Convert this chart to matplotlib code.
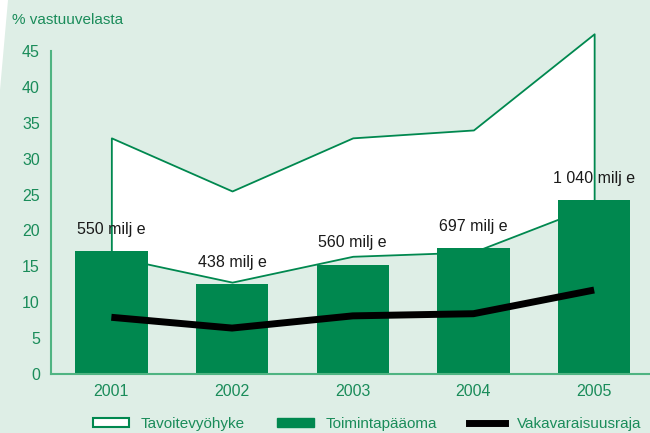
import matplotlib
matplotlib.use('Agg')
import matplotlib.pyplot as plt
from matplotlib.patches import Patch, Polygon
from matplotlib.lines import Line2D

plt.rcParams['font.family'] = ['Liberation Sans', 'DejaVu Sans']

years = ['2001', '2002', '2003', '2004', '2005']
toimintapaaoma = [17.1, 12.5, 15.2, 17.5, 24.2]
zone_upper = [32.9, 25.5, 32.9, 34.0, 47.4]
zone_lower = [16.4, 12.8, 16.4, 17.0, 23.5]
vakavaraisuusraja = [7.9, 6.4, 8.1, 8.4, 11.7]
bar_labels = ['550 milj e', '438 milj e', '560 milj e', '697 milj e', '1 040 milj e']

bg = '#deeee6'
green = '#00884f'
text_green = '#1a8c5a'
spine_green = '#4fb482'

fig = plt.figure(figsize=(6.5, 4.33), dpi=100, facecolor=bg)
ax = fig.add_axes([51 / 650, 59 / 433, 603.5 / 650, 323 / 433])
ax.set_facecolor(bg)

# white notch at the top-left corner of the page
fig.patches.append(Polygon([(0, 1), (8 / 650, 1), (0, 1 - 90 / 433)],
                           closed=True, transform=fig.transFigure,
                           facecolor='white', edgecolor='none'))

x = list(range(len(years)))
ax.fill_between(x, zone_lower, zone_upper, facecolor='white',
                edgecolor=green, linewidth=1.3, zorder=1, clip_on=False)
ax.bar(x, toimintapaaoma, width=0.6, color=green, zorder=2)
ax.plot(x, vakavaraisuusraja, color='black', linewidth=5, zorder=3,
        solid_capstyle='butt')

for i, (v, lab) in enumerate(zip(toimintapaaoma, bar_labels)):
    ax.annotate(lab, (i, v), xytext=(0, 16), textcoords='offset points',
                ha='center', va='center', fontsize=11.5, color='#1a1a1a', zorder=4)

ax.set_xlim(-0.5, 4.5)
ax.set_ylim(0, 45)
ax.set_yticks(range(0, 50, 5))
ax.set_xticks(x)
ax.set_xticklabels(years)
ax.tick_params(axis='both', length=0, labelsize=11.5, colors=text_green)
ax.tick_params(axis='y', pad=8)
ax.tick_params(axis='x', pad=7)
for s in ['top', 'right']:
    ax.spines[s].set_visible(False)
for s in ['left', 'bottom']:
    ax.spines[s].set_color(spine_green)
    ax.spines[s].set_linewidth(1.5)

fig.text(12 / 650, 1 - 20 / 433, '% vastuuvelasta', color=text_green,
         fontsize=11, ha='left', va='center')

handles = [Patch(facecolor='white', edgecolor=green, linewidth=1.5),
           Patch(facecolor=green, edgecolor=green),
           Line2D([0], [0], color='black', linewidth=5)]
labels = ['Tavoitevyöhyke', 'Toimintapääoma', 'Vakavaraisuusraja']
leg = fig.legend(handles, labels, loc='center', ncol=3, frameon=False,
                 bbox_to_anchor=(367 / 650, 9 / 433), fontsize=11,
                 handlelength=2.4, handleheight=0.6, handletextpad=0.75,
                 columnspacing=2.1)
for t in leg.get_texts():
    t.set_color(text_green)

fig.savefig('out.png', dpi=100, facecolor=bg)
